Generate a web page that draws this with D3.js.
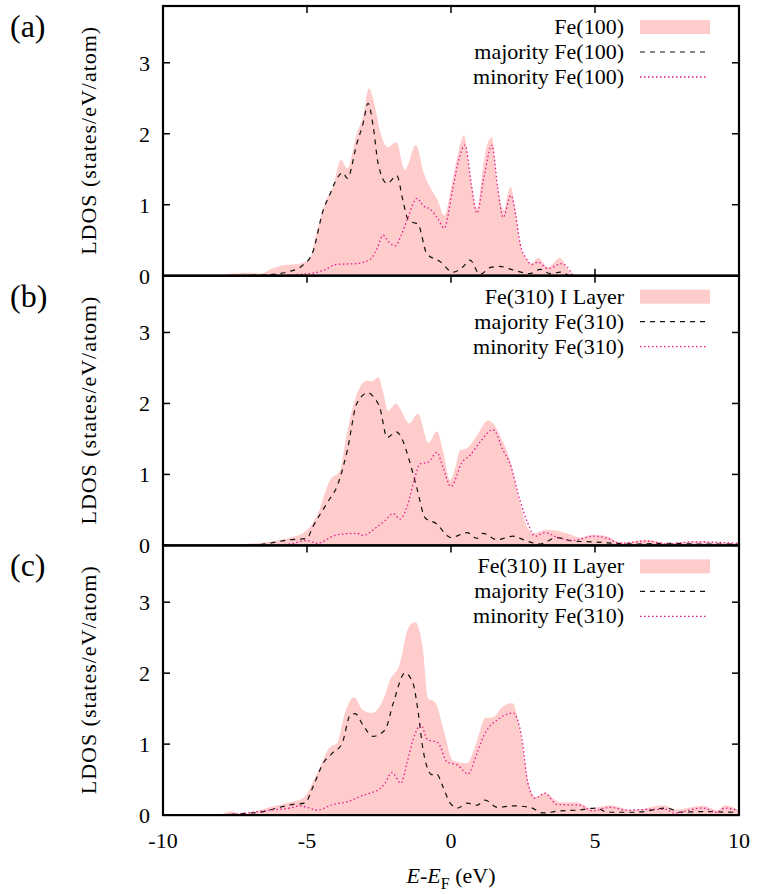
<!DOCTYPE html>
<html>
<head>
<meta charset="utf-8">
<script src="https://cdn.jsdelivr.net/npm/d3@7"></script>
<style>
  body { margin: 0; background: #fff; }
</style>
</head>
<body>
<div id="chart"></div>
<script>
// values: [E - E_F (eV), LDOS]
var totalA = [[-8.2,0],[-7.8,0.02],[-7.0,0.04],[-6.6,0.03],[-6.2,0.1],[-5.8,0.15],[-5.25,0.17],[-4.9,0.25],[-4.65,0.64],[-4.3,1.1],[-4.1,1.25],[-3.82,1.63],[-3.6,1.51],[-3.27,2.0],[-3.05,2.25],[-2.85,2.64],[-2.65,2.4],[-2.47,2.05],[-2.2,1.81],[-1.9,1.88],[-1.6,1.49],[-1.22,1.84],[-0.95,1.45],[-0.66,1.2],[-0.45,1.05],[-0.24,0.85],[0.07,1.38],[0.24,1.72],[0.45,1.98],[0.66,1.44],[0.9,0.95],[1.13,1.58],[1.25,1.84],[1.42,1.95],[1.6,1.32],[1.84,0.92],[1.98,1.17],[2.08,1.25],[2.2,1.02],[2.4,0.45],[2.6,0.25],[2.8,0.17],[3.02,0.25],[3.37,0.12],[3.78,0.25],[4.13,0.05],[4.4,0]];
var majA = [[-8,0],[-6.5,0.01],[-5.6,0.06],[-5.14,0.15],[-4.8,0.33],[-4.44,0.92],[-4.2,1.15],[-3.96,1.37],[-3.75,1.45],[-3.6,1.37],[-3.27,1.86],[-3.05,2.15],[-2.88,2.43],[-2.7,2.1],[-2.53,1.58],[-2.22,1.3],[-1.88,1.41],[-1.67,1.06],[-1.5,0.8],[-1.32,0.75],[-1.15,0.73],[-0.84,0.31],[-0.38,0.2],[0.07,0.05],[0.4,0.12],[0.66,0.22],[1.0,0.02],[1.4,0.12],[1.7,0.13],[2.15,0.08],[2.74,0.03],[3.1,0.09],[3.44,0.03],[3.8,0.05],[4.1,0]];
var minA = [[-8,0],[-6.5,0.0],[-4.9,0.03],[-4.4,0.08],[-3.96,0.16],[-3.27,0.17],[-2.81,0.23],[-2.55,0.4],[-2.36,0.57],[-2.15,0.47],[-1.94,0.42],[-1.75,0.55],[-1.53,0.78],[-1.18,1.09],[-0.95,0.98],[-0.73,0.94],[-0.45,0.8],[-0.24,0.67],[0.05,1.2],[0.25,1.6],[0.49,1.84],[0.7,1.3],[0.9,0.88],[1.15,1.4],[1.42,1.84],[1.62,1.25],[1.81,0.82],[2.08,1.13],[2.25,0.85],[2.4,0.45],[2.6,0.25],[2.8,0.16],[3.02,0.19],[3.37,0.1],[3.85,0.17],[4.24,0]];

var totalB = [[-8,0],[-7.67,0.01],[-6.5,0.04],[-6.04,0.07],[-5.5,0.12],[-5.14,0.17],[-4.65,0.42],[-4.2,0.92],[-3.85,1.06],[-3.65,1.5],[-3.44,1.9],[-3.2,2.2],[-2.92,2.32],[-2.74,2.31],[-2.53,2.37],[-2.35,2.15],[-2.19,1.9],[-1.9,2.0],[-1.77,1.93],[-1.45,1.72],[-1.15,1.86],[-0.78,1.45],[-0.49,1.61],[-0.28,1.34],[-0.03,0.92],[0.15,1.1],[0.31,1.34],[0.56,1.37],[0.9,1.55],[1.28,1.76],[1.5,1.7],[1.7,1.55],[2.05,1.2],[2.4,0.59],[2.6,0.3],[2.85,0.17],[3.33,0.22],[4.03,0.17],[4.48,0.11],[4.93,0.15],[5.42,0.13],[5.87,0.04],[6.8,0.08],[7.5,0.03],[8.54,0.06],[9.8,0.03],[10,0.03]];
var majB = [[-8,0],[-6.7,0.01],[-5.6,0.08],[-5.0,0.1],[-4.8,0.26],[-4.3,0.6],[-3.92,0.87],[-3.6,1.34],[-3.27,2.0],[-2.88,2.15],[-2.67,2.08],[-2.47,1.94],[-2.22,1.52],[-1.9,1.6],[-1.7,1.5],[-1.45,1.2],[-1.18,0.8],[-0.9,0.39],[-0.49,0.3],[-0.14,0.14],[0.0,0.11],[0.56,0.18],[0.9,0.1],[1.11,0.17],[1.6,0.08],[2.15,0.13],[2.64,0.06],[3.09,0.02],[3.68,0.11],[4.24,0.06],[4.93,0.05],[5.63,0.03],[6.5,0.02],[7.5,0.03],[8.5,0.02],[10,0.02]];
var minB = [[-8,0],[-6,0.01],[-5.6,0.02],[-5.0,0.07],[-4.65,0.03],[-3.96,0.15],[-3.27,0.17],[-3.06,0.14],[-2.57,0.26],[-2.29,0.35],[-2.01,0.45],[-1.77,0.37],[-1.53,0.54],[-1.25,0.96],[-1.08,1.15],[-0.8,1.17],[-0.49,1.31],[-0.28,1.1],[0.0,0.83],[0.38,1.17],[0.66,1.27],[1.0,1.45],[1.46,1.63],[1.81,1.34],[2.05,1.15],[2.4,0.63],[2.67,0.31],[2.92,0.13],[3.26,0.18],[3.72,0.11],[4.24,0.07],[4.93,0.13],[5.42,0.1],[5.87,0.03],[6.8,0.06],[7.5,0.02],[8.4,0.05],[10,0.03]];

var totalC = [[-8,0],[-7.67,0.05],[-7.3,0.02],[-6.98,0.03],[-6.4,0.1],[-5.6,0.18],[-5.14,0.24],[-4.65,0.59],[-4.2,0.96],[-3.96,1.01],[-3.68,1.44],[-3.37,1.66],[-3.06,1.48],[-2.74,1.44],[-2.36,1.62],[-2.12,1.9],[-1.77,2.14],[-1.49,2.63],[-1.25,2.72],[-0.97,2.32],[-0.8,1.65],[-0.55,1.59],[-0.28,1.24],[0.07,0.77],[0.56,0.73],[0.83,0.96],[1.21,1.37],[1.46,1.38],[1.77,1.52],[2.12,1.58],[2.4,1.2],[2.67,0.49],[2.92,0.25],[3.26,0.31],[3.78,0.18],[4.38,0.18],[4.83,0.1],[5.52,0.14],[6.32,0.07],[7.36,0.14],[7.85,0.08],[8.75,0.13],[9.24,0.07],[9.51,0.14],[10,0.07]];
var majC = [[-8,0],[-7.33,0.02],[-6.5,0.05],[-6.04,0.1],[-5.49,0.15],[-5.07,0.17],[-4.79,0.4],[-4.44,0.73],[-4.13,0.87],[-3.78,1.01],[-3.5,1.41],[-3.33,1.43],[-3.06,1.27],[-2.71,1.11],[-2.29,1.2],[-2.01,1.57],[-1.6,2.0],[-1.32,1.86],[-1.15,1.48],[-0.97,0.92],[-0.66,0.57],[-0.5,0.58],[-0.28,0.4],[-0.03,0.17],[0.24,0.1],[0.56,0.17],[0.9,0.14],[1.18,0.21],[1.6,0.11],[2.15,0.13],[2.74,0.11],[3.19,0.03],[3.78,0.06],[4.38,0.07],[5.07,0.1],[5.42,0.04],[6.46,0.04],[7.5,0.1],[7.95,0.04],[8.7,0.05],[9.8,0.04],[10,0.04]];
var minC = [[-8,0],[-7.33,0.02],[-6.3,0.07],[-5.6,0.1],[-5.25,0.13],[-5.0,0.11],[-4.65,0.07],[-4.1,0.15],[-3.5,0.2],[-3.23,0.25],[-2.81,0.31],[-2.47,0.37],[-2.29,0.45],[-2.05,0.6],[-1.74,0.45],[-1.53,0.73],[-1.32,1.06],[-1.04,1.27],[-0.83,1.07],[-0.45,1.02],[-0.14,0.75],[0.24,0.7],[0.59,0.58],[0.9,0.87],[1.18,1.15],[1.6,1.34],[1.88,1.41],[2.15,1.44],[2.47,1.06],[2.67,0.45],[2.92,0.24],[3.26,0.31],[3.68,0.15],[4.48,0.14],[4.9,0.06],[5.52,0.11],[6.1,0.07],[6.9,0.08],[7.5,0.08],[7.7,0.03],[8.75,0.1],[9.24,0.04],[9.51,0.1],[10,0.06]];

var panelLetters = ["(a)", "(b)", "(c)"];
var totalNames = ["Fe(100)", "Fe(310) I Layer", "Fe(310) II Layer"];
var majNames = ["majority Fe(100)", "majority Fe(310)", "majority Fe(310)"];
var minNames = ["minority Fe(100)", "minority Fe(310)", "minority Fe(310)"];
var xTicks = [-10, -5, 0, 5, 10];
var yTicks = [0, 1, 2, 3];

var width = 758, height = 894;
var left = 163, right = 739, top0 = 6, panelH = 269.7;
var tickLen = 7;
var fillColor = "#ffcccc", minColor = "#e8168c";
var serif = "'Liberation Serif', 'Times New Roman', Times, Tinos, 'DejaVu Serif', 'Noto Serif', serif";

var panels = [
  {total: totalA, maj: majA, min: minA},
  {total: totalB, maj: majB, min: minB},
  {total: totalC, maj: majC, min: minC}
];

var svg = d3.select("#chart").append("svg")
  .attr("width", width)
  .attr("height", height)
  .attr("font-family", serif);

var x = d3.scaleLinear().domain([-10, 10]).range([left, right]);

panels.forEach(function(p, i){
  var top = top0 + i*panelH;
  var y = d3.scaleLinear().domain([0, 3.8]).range([top + panelH, top]);
  var g = svg.append("g");

  // tics sit behind the data, like gnuplot's default
  var ticks = g.append("g").attr("stroke", "#000").attr("stroke-width", 1.5);
  xTicks.forEach(function(t){
    ticks.append("line").attr("x1", x(t)).attr("x2", x(t)).attr("y1", y(0)).attr("y2", y(0) - tickLen);
    ticks.append("line").attr("x1", x(t)).attr("x2", x(t)).attr("y1", top).attr("y2", top + tickLen);
  });
  yTicks.forEach(function(t){
    ticks.append("line").attr("x1", left).attr("x2", left + tickLen).attr("y1", y(t)).attr("y2", y(t));
    ticks.append("line").attr("x1", right).attr("x2", right - tickLen).attr("y1", y(t)).attr("y2", y(t));
  });

  var area = d3.area()
    .x(function(d){ return x(d[0]); })
    .y0(y(0))
    .y1(function(d){ return y(d[1]); })
    .curve(d3.curveMonotoneX);
  var line = d3.line()
    .x(function(d){ return x(d[0]); })
    .y(function(d){ return y(d[1]); })
    .curve(d3.curveMonotoneX);

  g.append("path").datum(p.total)
    .attr("d", area)
    .attr("fill", fillColor);
  g.append("path").datum(p.maj)
    .attr("d", line)
    .attr("fill", "none")
    .attr("stroke", "#111")
    .attr("stroke-width", 1.2)
    .attr("stroke-dasharray", "5,5");
  g.append("path").datum(p.min)
    .attr("d", line)
    .attr("fill", "none")
    .attr("stroke", minColor)
    .attr("stroke-width", 1.3)
    .attr("stroke-dasharray", "1.5,2.5");

  // y tick labels
  yTicks.forEach(function(t){
    g.append("text")
      .attr("x", 150).attr("y", y(t) + 8)
      .attr("text-anchor", "end")
      .attr("font-size", 22)
      .text(t);
  });

  // legend
  var lg = g.append("g");
  var rows = [totalNames[i], majNames[i], minNames[i]];
  rows.forEach(function(r, k){
    lg.append("text")
      .attr("x", 624).attr("y", top + 21 + k*25 + 7)
      .attr("text-anchor", "end")
      .attr("font-size", 22)
      .text(r);
  });
  lg.append("rect").attr("x", 640).attr("y", top + 14).attr("width", 70).attr("height", 14).attr("fill", fillColor);
  lg.append("line").attr("x1", 640).attr("x2", 708).attr("y1", top + 46).attr("y2", top + 46)
    .attr("stroke", "#111").attr("stroke-width", 1.2).attr("stroke-dasharray", "5,5");
  lg.append("line").attr("x1", 640).attr("x2", 708).attr("y1", top + 71).attr("y2", top + 71)
    .attr("stroke", minColor).attr("stroke-width", 1.3).attr("stroke-dasharray", "1.5,2.5");

  // frame
  g.append("rect")
    .attr("x", left).attr("y", top)
    .attr("width", right - left).attr("height", panelH)
    .attr("fill", "none").attr("stroke", "#000").attr("stroke-width", 2.2);

  // panel letter
  g.append("text")
    .attr("x", 10).attr("y", top + 31)
    .attr("font-size", 32)
    .text(panelLetters[i]);

  // y label
  g.append("text")
    .attr("transform", "translate(96," + (top + panelH/2) + ") rotate(-90)")
    .attr("text-anchor", "middle")
    .attr("textLength", 228)
    .attr("lengthAdjust", "spacing")
    .attr("font-size", 22)
    .text("LDOS (states/eV/atom)");

  // x tick labels only under the last panel
  if (i === panels.length - 1) {
    xTicks.forEach(function(t){
      g.append("text")
        .attr("x", x(t)).attr("y", y(0) + 33)
        .attr("text-anchor", "middle")
        .attr("font-size", 22)
        .text(t);
    });
  }
});

var xl = svg.append("text")
  .attr("x", x(0)).attr("y", 883)
  .attr("text-anchor", "middle")
  .attr("font-size", 22);
xl.append("tspan").attr("font-style", "italic").text("E");
xl.append("tspan").text("-");
xl.append("tspan").attr("font-style", "italic").text("E");
xl.append("tspan").attr("dy", 6).attr("font-size", 16).text("F");
xl.append("tspan").attr("dy", -6).text(" (eV)");
</script>
</body>
</html>
